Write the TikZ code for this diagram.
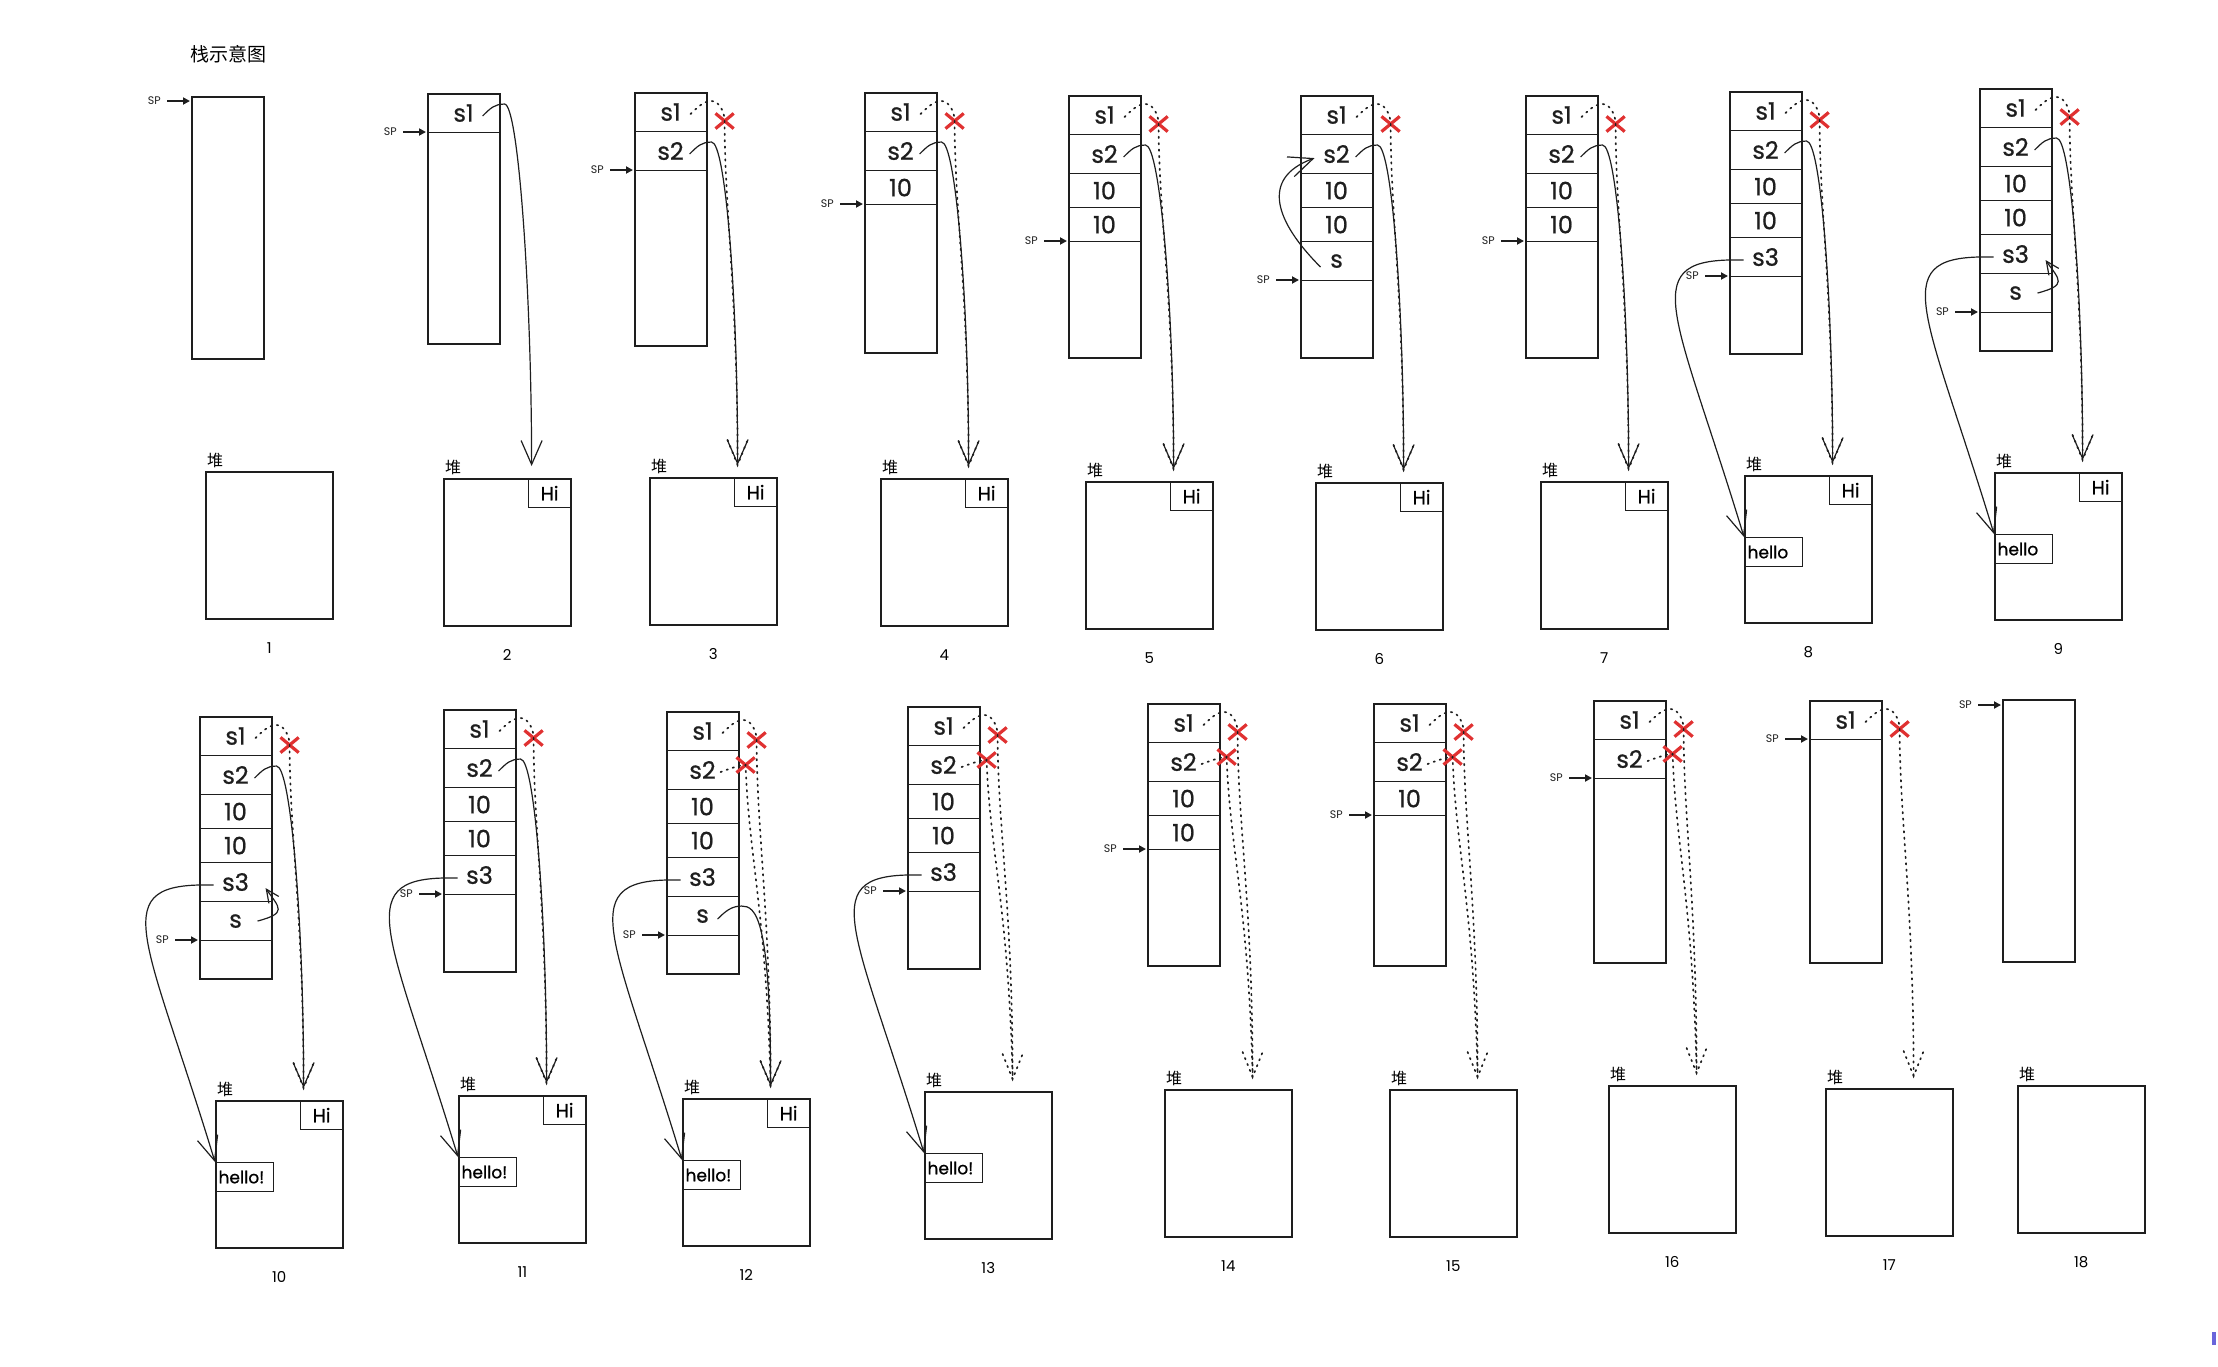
\documentclass[tikz,border=0pt]{standalone}
\usepackage{fontspec}
\setmainfont{Poppins}
\newfontfamily\hand[FakeBold=0.8]{Poppins}
\newfontfamily\cjk{Noto Sans CJK SC}
\usetikzlibrary{arrows.meta,positioning,calc,shapes.misc}

\definecolor{ink}{HTML}{1E1E1E}
\definecolor{xred}{HTML}{E03131}
\definecolor{cursorblue}{HTML}{6965DB}

\tikzset{
  stk/.style={draw=ink, line width=1.6pt, minimum width=72pt, anchor=north west, inner sep=0pt},
  cell/.style={draw=ink, line width=1.1pt, minimum width=72pt, anchor=north west, inner sep=0pt,
               text=ink, font={\hand\fontsize{24}{28}\selectfont}},
  heap/.style={draw=ink, line width=1.6pt, minimum width=127pt, minimum height=147pt,
               anchor=north west, inner sep=0pt},
  hibox/.style={draw=ink, line width=1.1pt, minimum width=43pt, minimum height=29pt,
                anchor=north east, inner sep=0pt, font={\hand\fontsize{19}{21}\selectfont}},
  hlbox/.style={draw=ink, line width=1.1pt, text width=52pt, align=left, minimum height=29pt,
                anchor=north west, inner xsep=3pt, inner ysep=0pt, font={\hand\fontsize{17}{20}\selectfont}},
  sptxt/.style={text=ink, inner sep=1pt, font={\fontsize{11}{13}\selectfont}},
  sparrow/.style={draw=ink, line width=2.2pt, -{Triangle[length=7pt,width=7pt]}, shorten <=5pt},
  ptr/.style={draw=ink, line width=1.2pt, -{Straight Barb[length=24pt,width=21pt]}},
  ptrs/.style={draw=ink, line width=1.2pt, -{Straight Barb[length=13pt,width=12pt]}},
  freed/.style={draw=ink, line width=1.7pt, line cap=round, dash pattern=on 1.4pt off 5pt},
  cross/.style={cross out, draw=xred, line width=3.2pt, minimum width=15pt, minimum height=12pt, inner sep=0pt},
  cjklbl/.style={inner sep=0pt, font={\cjk\fontsize{16}{18}\selectfont}},
  numlbl/.style={inner sep=1pt, font={\fontsize{15}{17}\selectfont}},
}

\begin{document}
\begin{tikzpicture}[x=1pt,y=1pt]
\useasboundingbox (0,0) rectangle (2218,-1366);

\node[font={\cjk\fontsize{19}{22}\selectfont}] (title) at (228,-54) {栈示意图};

% stacks and heaps, one pair per step
\foreach \n/\sx/\sy/\sh/\hx/\hy in {
    1/191/96/262/205/471, 2/427/93/250/443/478, 3/634/92/253/649/477,
    4/864/92/260/880/478, 5/1068/95/262/1085/481, 6/1300/95/262/1315/482,
    7/1525/95/262/1540/481, 8/1729/91/262/1744/475, 9/1979/88/262/1994/472,
    10/199/716/262/215/1100, 11/443/709/262/458/1095, 12/666/711/262/682/1098,
    13/907/706/262/924/1091, 14/1147/703/262/1164/1089, 15/1373/703/262/1389/1089,
    16/1593/700/262/1608/1085, 17/1809/700/262/1825/1088, 18/2002/699/262/2017/1085}{
  \node[stk, minimum height=\sh pt] (st\n) at (\sx,-\sy) {};
  \node[heap] (hp\n) at (\hx,-\hy) {};
  \node[cjklbl, anchor=south west] (dui\n) at ($(hp\n.north west)+(2,3)$) {堆};
  \node[numlbl, below=22pt of hp\n] (n\n) {\n};
  \coordinate (t\n) at ($(hp\n.north east)+(-40,12)$);
}

% stack cells
\foreach \n/\cells in {2/{s1}, 3/{s1,s2}, 4/{s1,s2,10}, 5/{s1,s2,10,10},
    6/{s1,s2,10,10,s}, 7/{s1,s2,10,10}, 8/{s1,s2,10,10,s3}, 9/{s1,s2,10,10,s3,s},
    10/{s1,s2,10,10,s3,s}, 11/{s1,s2,10,10,s3}, 12/{s1,s2,10,10,s3,s},
    13/{s1,s2,10,10,s3}, 14/{s1,s2,10,10}, 15/{s1,s2,10}, 16/{s1,s2}, 17/{s1}}{
  \foreach \t [count=\k] in \cells {
    \pgfmathsetmacro\ctop{{0,39,78,112,146,185}[\k-1]}
    \pgfmathsetmacro\cht{{39,39,34,34,39,39}[\k-1]}
    \node[cell, minimum height=\cht pt] (c\n-\k) at ($(st\n.north west)+(0,-\ctop)$) {\t};
  }
}

% SP markers
\foreach \n/\off in {1/5, 2/39, 3/78, 4/112, 5/146, 6/185, 7/146, 8/185, 9/224,
    10/224, 11/185, 12/224, 13/185, 14/146, 15/112, 16/78, 17/39, 18/6}{
  \coordinate (p\n) at ($(st\n.north west)+(-1,-\off)$);
  \node[sptxt, left=28pt of p\n] (sp\n) {SP};
  \draw[sparrow] (sp\n) -- (p\n);
}

% heap contents
\foreach \n in {2,...,12}
  \node[hibox] (hi\n) at (hp\n.north east) {Hi};
\foreach \n/\t in {8/hello, 9/hello, 10/hello!, 11/hello!, 12/hello!, 13/hello!}
  \node[hlbox] (hl\n) at ($(hp\n.north west)+(0,-62)$) {\t};

% live pointers to "Hi"
\draw[ptr] ($(c2-1.center)+(19,-3)$) .. controls +(8,8) and +(-10,0) .. ++(22,12)
  .. controls +(14,0) and +(0,170) .. (t2);
\foreach \n in {3,...,11}
  \draw[ptr] ($(c\n-2.center)+(19,-3)$) .. controls +(8,8) and +(-10,0) .. ++(22,12)
    .. controls +(14,0) and +(0,170) .. (t\n);
\draw[ptr] ($(c12-6.center)+(15,-3)$) .. controls +(8,8) and +(-10,0) .. ++(24,13)
  .. controls +(14,0) and +(0,170) .. (t12);

% s1 gone out of scope
\foreach \n in {3,...,17}{
  \node[cross] (xa\n) at ($(st\n.north east)+(17,-29)$) {};
  \draw[freed] ($(c\n-1.center)+(20,-2)$) .. controls +(6,6) and +(-8,0) .. ($(st\n.north east)+(4,-9)$)
    .. controls +(8,0) and +(0,8) .. (xa\n.center) .. controls +(0,-90) and +(0,170) .. (t\n);
  \draw[freed] ($(t\n)+(-10,25)$) -- (t\n) -- ($(t\n)+(10,25)$);
}
% s2 gone out of scope
\foreach \n in {12,...,16}{
  \node[cross] (xb\n) at ($(st\n.north east)+(6,-54)$) {};
  \draw[freed] ($(c\n-2.center)+(18,-2)$) .. controls +(8,3) and +(-6,0) .. (xb\n.center)
    .. controls +(3,-90) and +(-4,170) .. (t\n);
}

% s3 -> hello
\foreach \n in {8,...,13}
  \draw[ptr] ($(c\n-5.center)+(-22,-3)$) .. controls +(-110,3) and +(-70,230) .. (hl\n.north west);

% s points back into the stack
\draw[ptr] ($(c6-5.center)+(-16,-6)$) .. controls +(-45,45) and +(-55,-20) .. ($(c6-2.center)+(-22,-4)$);
\foreach \n in {9,10}
  \draw[ptrs] ($(c\n-6.center)+(22,0)$) .. controls +(30,8) and +(14,-20) .. ($(c\n-5.center)+(30,-6)$);

\fill[cursorblue] (2212,-1332) rectangle (2216,-1345);
\end{tikzpicture}
\end{document}
